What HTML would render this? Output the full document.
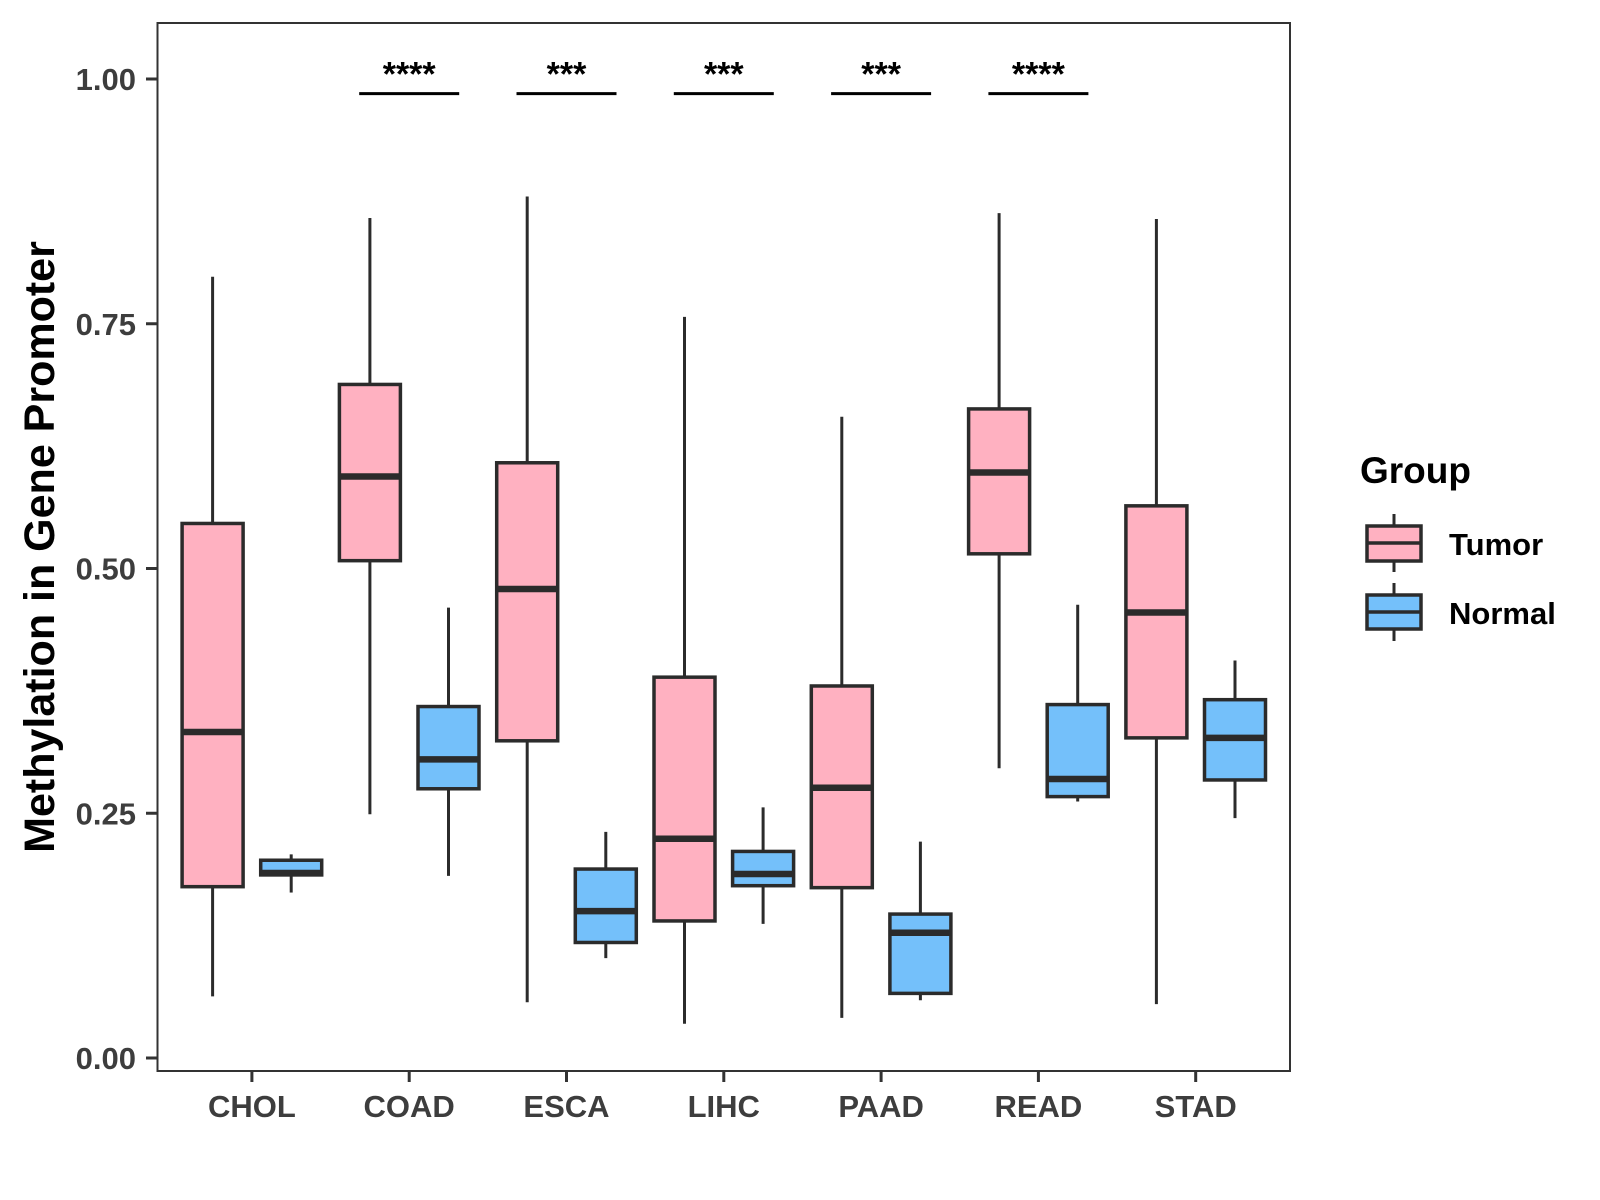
<!DOCTYPE html>
<html><head><meta charset="utf-8"><style>
body{margin:0;background:#fff}
svg{display:block;font-family:"Liberation Sans",Arial,sans-serif}
</style></head><body>
<svg id="chart" width="1600" height="1200" viewBox="0 0 1600 1200" xmlns="http://www.w3.org/2000/svg">
<rect width="1600" height="1200" fill="#fff"/>
<g id="marks"></g>
<rect x="157.5" y="23" width="1132.5" height="1048" fill="none" stroke="#333" stroke-width="2"/>
<g id="axes"></g>
<text transform="translate(54,547) rotate(-90)" text-anchor="middle" font-size="43" font-weight="bold" fill="#000">Methylation in Gene Promoter</text>
<g>
<text x="1360" y="483" font-size="37" font-weight="bold" fill="#000">Group</text>
<g>
<line x1="1394" x2="1394" y1="514" y2="572" stroke="#2b2b2b" stroke-width="3"/>
<rect x="1367" y="526" width="54" height="35" fill="#FFB1C1" stroke="#2b2b2b" stroke-width="3.5"/>
<line x1="1367" x2="1421" y1="543" y2="543" stroke="#2b2b2b" stroke-width="3.5"/>
<text x="1449" y="555" font-size="31" font-weight="bold" fill="#000">Tumor</text>
</g>
<g>
<line x1="1394" x2="1394" y1="583" y2="641" stroke="#2b2b2b" stroke-width="3"/>
<rect x="1367" y="595" width="54" height="34" fill="#74C0FA" stroke="#2b2b2b" stroke-width="3.5"/>
<line x1="1367" x2="1421" y1="612" y2="612" stroke="#2b2b2b" stroke-width="3.5"/>
<text x="1449" y="624" font-size="31" font-weight="bold" fill="#000">Normal</text>
</g>
</g>
</svg>
<script>
const categories = ["CHOL","COAD","ESCA","LIHC","PAAD","READ","STAD"];
// [whiskerLow, q1, median, q3, whiskerHigh]
const tumorStats = [
 [0.063,0.175,0.333,0.546,0.798],
 [0.249,0.508,0.594,0.688,0.858],
 [0.057,0.324,0.479,0.608,0.880],
 [0.035,0.140,0.224,0.389,0.757],
 [0.041,0.174,0.276,0.380,0.655],
 [0.296,0.515,0.598,0.663,0.863],
 [0.055,0.327,0.455,0.564,0.857]
];
const normalStats = [
 [0.169,0.187,0.189,0.202,0.208],
 [0.186,0.275,0.305,0.359,0.460],
 [0.102,0.118,0.150,0.193,0.231],
 [0.137,0.176,0.188,0.211,0.256],
 [0.059,0.066,0.128,0.147,0.221],
 [0.262,0.267,0.285,0.361,0.463],
 [0.245,0.284,0.327,0.366,0.406]
];
const sigLabels = ["","****","***","***","***","****",""];
const sigLevel = [0,0.985,0.985,0.985,0.985,0.985,0];
const yTicks = [0,0.25,0.5,0.75,1.0];
const yTickLabels = ["0.00","0.25","0.50","0.75","1.00"];

const NS="http://www.w3.org/2000/svg";
function y(v){return 1058 - v*979;}
function x(i){return 251.9 + 157.3*i;}
function mk(tag,attrs,parent){const e=document.createElementNS(NS,tag);for(const k in attrs)e.setAttribute(k,attrs[k]);parent.appendChild(e);return e;}
const marks=document.getElementById('marks');
const axes=document.getElementById('axes');
const bw=61, off=39.3;
function drawBox(s,cx,fill,name){
  const g=mk('g',{},marks);
  
  
  mk('line',{x1:cx,x2:cx,y1:y(s[0]),y2:y(s[4]),stroke:'#2b2b2b','stroke-width':3},g);
  mk('rect',{x:cx-bw/2,y:y(s[3]),width:bw,height:y(s[1])-y(s[3]),fill:fill,stroke:'#2b2b2b','stroke-width':3.5},g);
  mk('line',{x1:cx-bw/2,x2:cx+bw/2,y1:y(s[2]),y2:y(s[2]),stroke:'#2b2b2b','stroke-width':6.5},g);
}
categories.forEach((c,i)=>{
  drawBox(tumorStats[i],x(i)-off,'#FFB1C1','box-tumor-'+c.toLowerCase());
  drawBox(normalStats[i],x(i)+off,'#74C0FA','box-normal-'+c.toLowerCase());
  if(sigLabels[i]){
    const l=mk('line',{x1:x(i)-50,x2:x(i)+50,y1:y(sigLevel[i]),y2:y(sigLevel[i]),stroke:'#000','stroke-width':3},marks);
    
    
    const t=mk('text',{x:x(i),y:y(sigLevel[i])-8,'text-anchor':'middle','font-size':34,'font-weight':'bold',fill:'#000'},marks);
    t.textContent=sigLabels[i];
    
    
  }
  mk('line',{x1:x(i),x2:x(i),y1:1071,y2:1082,stroke:'#333','stroke-width':3},axes);
  const xl=mk('text',{x:x(i),y:1117,'text-anchor':'middle','font-size':31,'font-weight':'bold',fill:'#3d3d3d'},axes);
  xl.textContent=c;
  
  
});
yTicks.forEach((v,i)=>{
  mk('line',{x1:146,x2:157.5,y1:y(v),y2:y(v),stroke:'#333','stroke-width':3},axes);
  const t=mk('text',{x:136,y:y(v)+11,'text-anchor':'end','font-size':31,'font-weight':'bold',fill:'#3d3d3d'},axes);
  t.textContent=yTickLabels[i];
  
  
});
</script>
</body></html>
